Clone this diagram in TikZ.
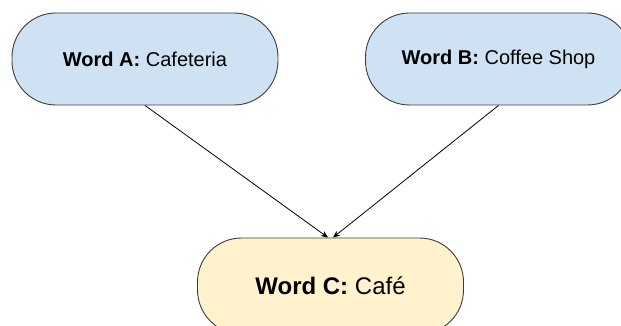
\documentclass[tikz,border=0pt]{standalone}
\usepackage{fontspec}
\setmainfont{Liberation Sans}
\usepackage{tikz}
\usetikzlibrary{arrows.meta}
\usetikzlibrary{positioning}

\definecolor{wordblue}{HTML}{CFE2F3}
\definecolor{wordyellow}{HTML}{FFF2CC}
\definecolor{wordline}{HTML}{3C3C3C}

\begin{document}
\begin{tikzpicture}[x=1pt,y=-1pt,
    word/.style={rectangle,draw=wordline,line width=0.9pt,rounded corners=44pt,
                 minimum width=266pt,minimum height=92pt,inner sep=0pt,
                 font=\fontsize{20}{24}\selectfont},
    wordtop/.style={word,fill=wordblue},
    wordbottom/.style={word,fill=wordyellow,minimum height=96pt,
                       font=\fontsize{24}{28}\selectfont},
    link/.style={line width=0.8pt,-{Stealth[length=7pt,width=6pt]}},
   ]
  \useasboundingbox (0,0) rectangle (621,326);
  \clip (0,0) rectangle (621,326);
  \node[wordtop] (wordA) at (145,59) {\textbf{Word A:} Cafeteria};
  \node[wordtop] (wordB) at (498.5,59) {\textbf{Word B:} Coffee Shop};
  \node[wordbottom] (wordC) at (330.5,286) {\textbf{Word C:} Café};
  \draw[link] (wordA.south) -- ([xshift=-2.5pt]wordC.north);
  \draw[link] (wordB.south) -- ([xshift=2.5pt]wordC.north);
\end{tikzpicture}
\end{document}
